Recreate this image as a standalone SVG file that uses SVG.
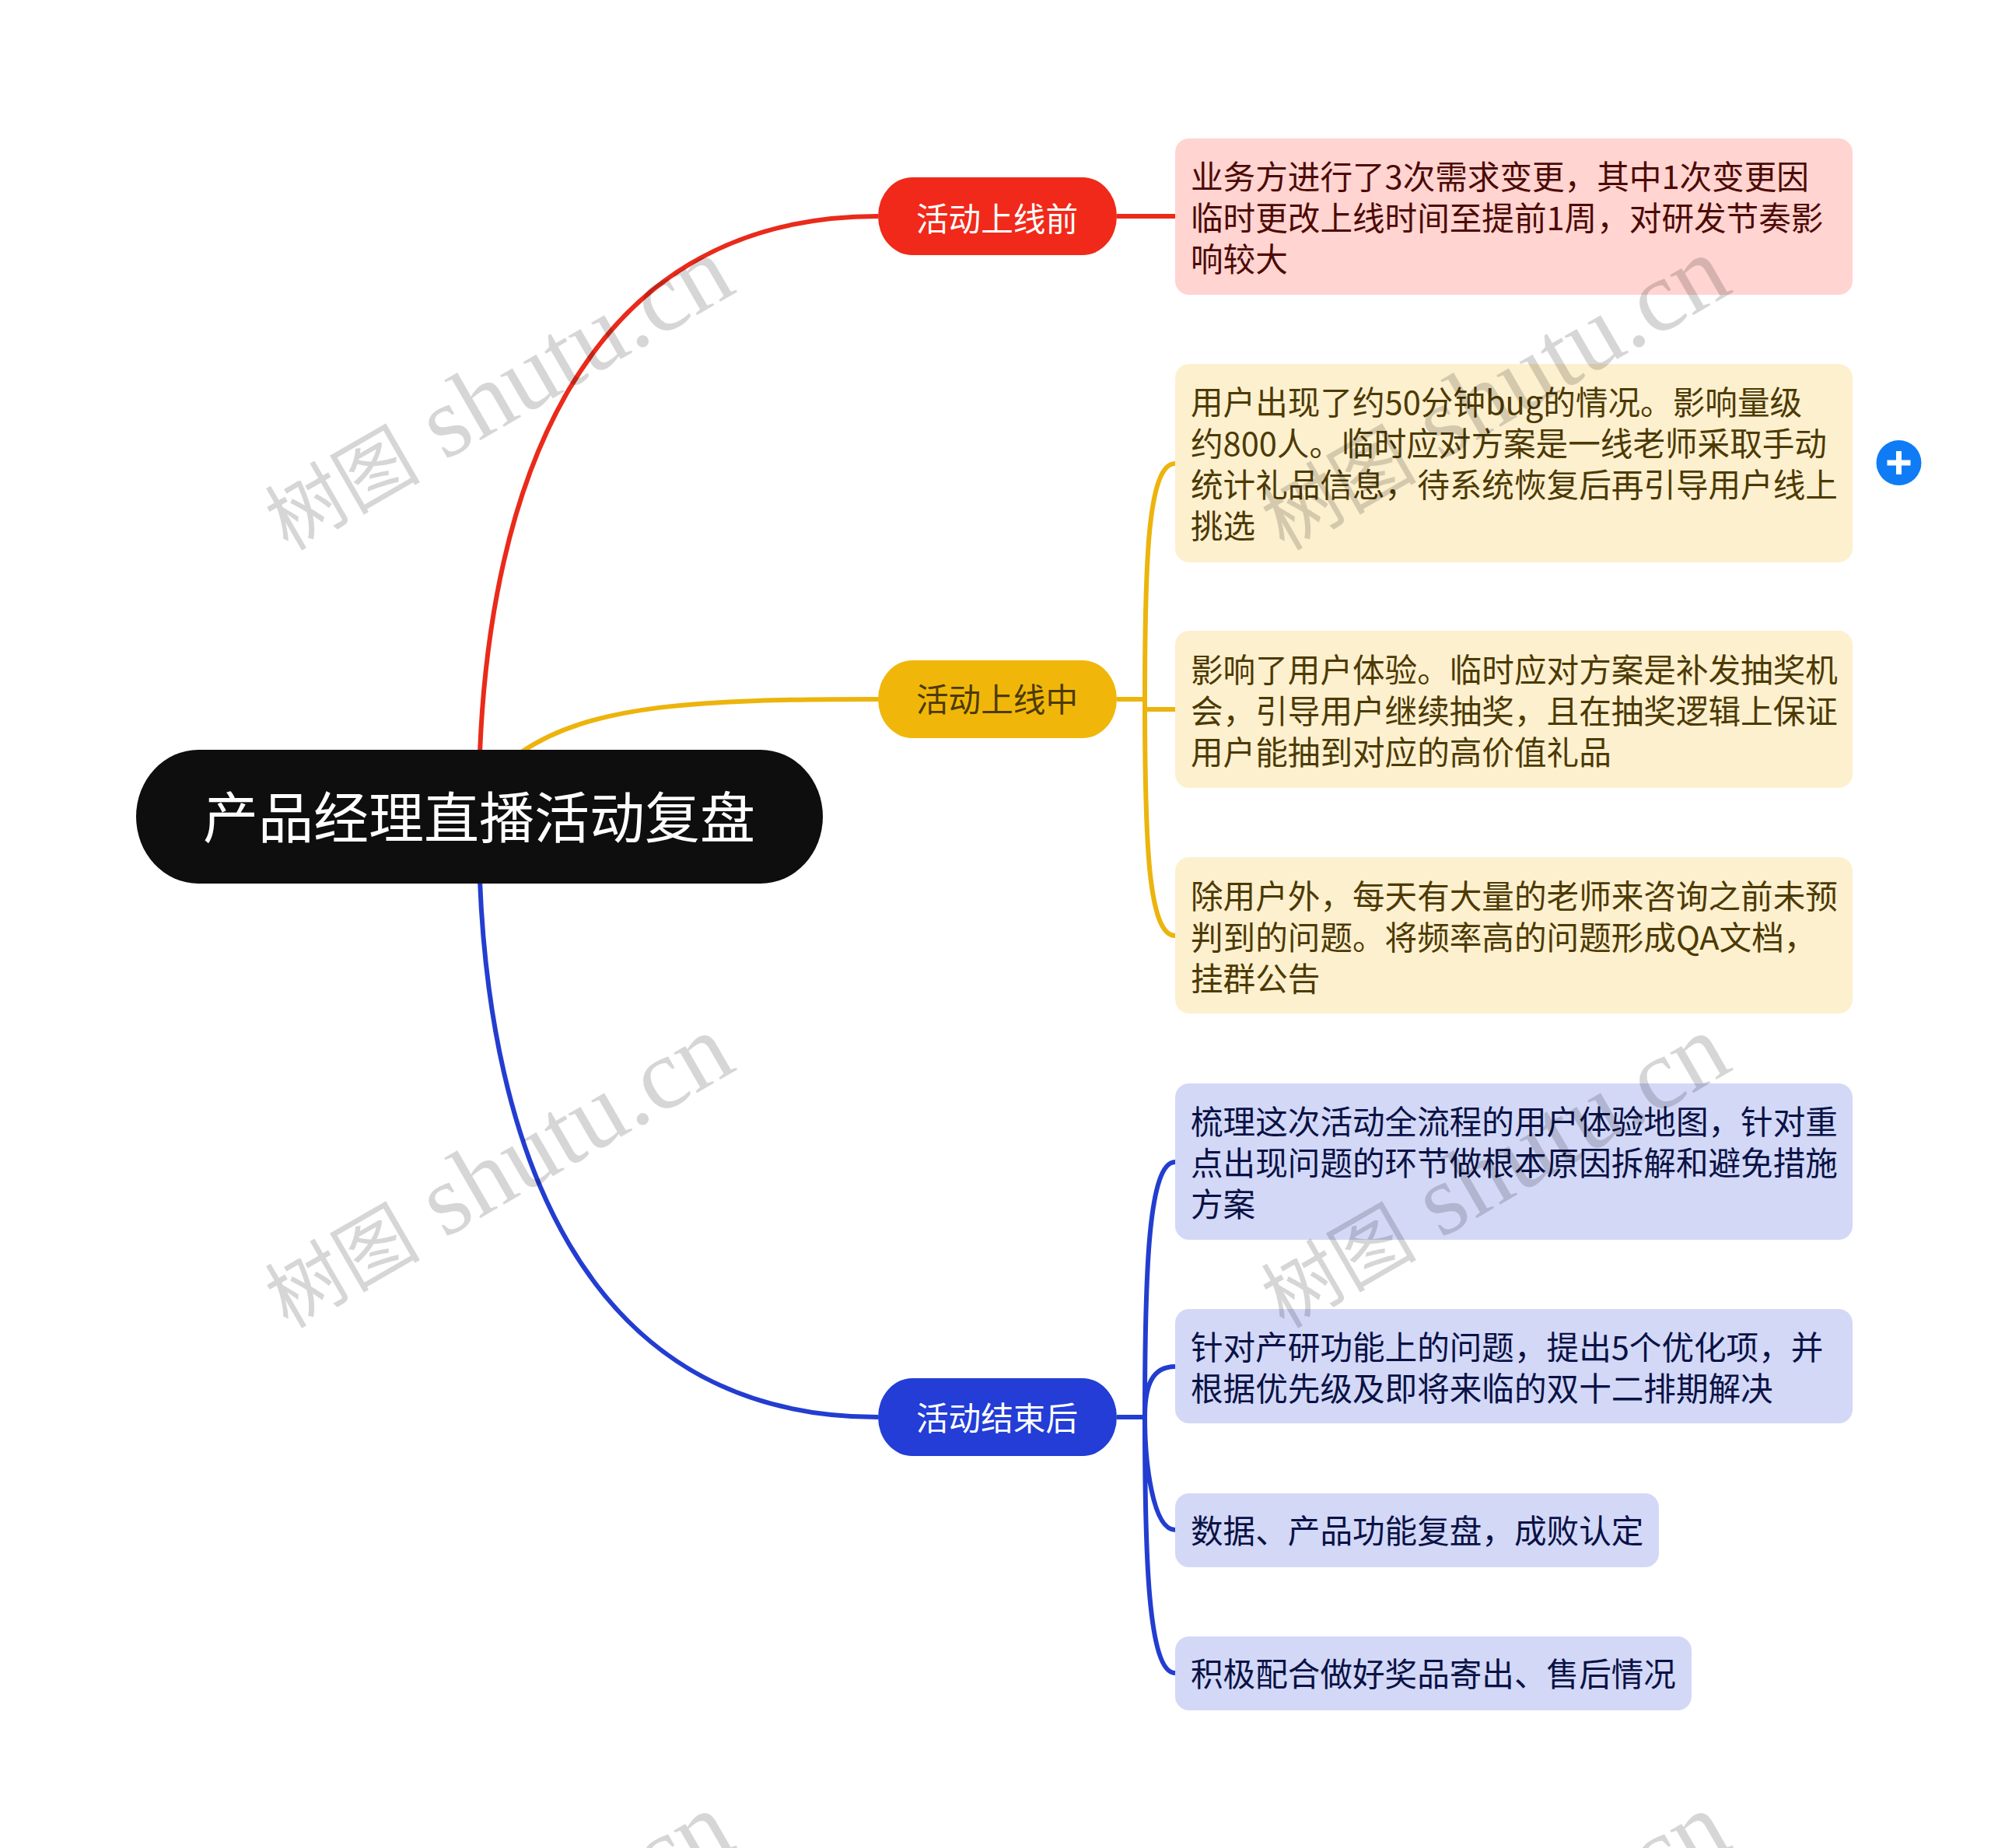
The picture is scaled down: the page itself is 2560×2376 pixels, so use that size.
<svg xmlns="http://www.w3.org/2000/svg" width="2560" height="2376" viewBox="0 0 2560 2376">
<style>
text{font-family:"Noto Sans CJK SC","Noto Sans",sans-serif}
.t{font-size:41.6px}
.c{fill:none;stroke-width:6;stroke-linecap:butt}
.r{stroke:#ea2a1a}.y{stroke:#ecb40c}.b{stroke:#233dd0}
.wm text{font-family:"Liberation Serif","Noto Sans CJK SC",serif;font-size:130px;fill:#000;fill-opacity:.16}
.wm tspan{font-size:100px}
.pill{text-anchor:middle}
</style>
<rect width="2560" height="2376" fill="#fff"/>
<g id="connectors">
<path class="c r" d="M617 968C630 640 740 278 1129 278"/>
<path class="c y" d="M669 968C760 905 900 899 1129 899"/>
<path class="c b" d="M617 1132C630 1460 740 1822 1129 1822"/>
<path class="c r" d="M1436 278H1511"/>
<path class="c y" d="M1436 899H1472M1472 899C1472 720 1476 596 1511 596M1472 899C1472 1080 1476 1203 1511 1203M1472 912H1511"/>
<path class="c b" d="M1436 1822H1472M1472 1822C1472 1640 1476 1494 1511 1494M1472 1822C1472 1780 1482 1757 1511 1757M1472 1822C1472 1880 1482 1967 1511 1967M1472 1822C1472 2000 1476 2151 1511 2151"/>
</g>
<g id="root"><rect x="175" y="964" width="883" height="172" rx="80" ry="86" fill="#0e0e0e"/><text x="616" y="1077" class="pill" font-size="71" fill="#fff">产品经理直播活动复盘</text></g>
<g id="b1"><rect x="1129" y="228" width="307" height="100" rx="44" ry="50" fill="#f0291a"/><text x="1282" y="297" class="pill" font-size="41.6" fill="#fff">活动上线前</text></g>
<g id="b2"><rect x="1129" y="849" width="307" height="100" rx="44" ry="50" fill="#f0b70a"/><text x="1282" y="915" class="pill" font-size="41.6" fill="#4d3a03">活动上线中</text></g>
<g id="b3"><rect x="1129" y="1772" width="307" height="100" rx="44" ry="50" fill="#233dd6"/><text x="1282" y="1839" class="pill" font-size="41.6" fill="#fff">活动结束后</text></g>
<g id="n1" class="t" fill="#4d0a05"><rect x="1511" y="178" width="871" height="201" rx="18" fill="#ffd4d1"/>
<text x="1531" y="243">业务方进行了3次需求变更，其中1次变更因</text><text x="1531" y="296">临时更改上线时间至提前1周，对研发节奏影</text><text x="1531" y="349">响较大</text></g>
<g id="n2" class="t" fill="#4d3a03"><rect x="1511" y="468" width="871" height="255" rx="18" fill="#fdf0cf"/>
<text x="1531" y="533">用户出现了约50分钟bug的情况。影响量级</text><text x="1531" y="586">约800人。临时应对方案是一线老师采取手动</text><text x="1531" y="639">统计礼品信息，待系统恢复后再引导用户线上</text><text x="1531" y="692">挑选</text></g>
<g id="n3" class="t" fill="#4d3a03"><rect x="1511" y="811" width="871" height="202" rx="18" fill="#fdf0cf"/>
<text x="1531" y="877">影响了用户体验。临时应对方案是补发抽奖机</text><text x="1531" y="930">会，引导用户继续抽奖，且在抽奖逻辑上保证</text><text x="1531" y="983">用户能抽到对应的高价值礼品</text></g>
<g id="n4" class="t" fill="#4d3a03"><rect x="1511" y="1102" width="871" height="201" rx="18" fill="#fdf0cf"/>
<text x="1531" y="1168">除用户外，每天有大量的老师来咨询之前未预</text><text x="1531" y="1221">判到的问题。将频率高的问题形成QA文档，</text><text x="1531" y="1274">挂群公告</text></g>
<g id="n5" class="t" fill="#0a1245"><rect x="1511" y="1393" width="871" height="201" rx="18" fill="#d3d8f7"/>
<text x="1531" y="1458">梳理这次活动全流程的用户体验地图，针对重</text><text x="1531" y="1511">点出现问题的环节做根本原因拆解和避免措施</text><text x="1531" y="1564">方案</text></g>
<g id="n6" class="t" fill="#0a1245"><rect x="1511" y="1683" width="871" height="147" rx="18" fill="#d3d8f7"/>
<text x="1531" y="1748">针对产研功能上的问题，提出5个优化项，并</text><text x="1531" y="1801">根据优先级及即将来临的双十二排期解决</text></g>
<g id="n7" class="t" fill="#0a1245"><rect x="1511" y="1920" width="622" height="95" rx="18" fill="#d3d8f7"/>
<text x="1531" y="1984">数据、产品功能复盘，成败认定</text></g>
<g id="n8" class="t" fill="#0a1245"><rect x="1511" y="2104" width="664" height="95" rx="18" fill="#d3d8f7"/>
<text x="1531" y="2168">积极配合做好奖品寄出、售后情况</text></g>
<g id="plus"><circle cx="2441.500" cy="595" r="29" fill="#0f7cf5"/><path d="M2426.500 595H2456.500M2441.500 580V610" stroke="#fff" stroke-width="7"/></g>
<g id="watermarks" class="wm">
<text transform="translate(370 709) rotate(-30)"><tspan>树图</tspan> shutu.cn</text>
<text transform="translate(1651 709) rotate(-30)"><tspan>树图</tspan> shutu.cn</text>
<text transform="translate(370 1709) rotate(-30)"><tspan>树图</tspan> shutu.cn</text>
<text transform="translate(1651 1709) rotate(-30)"><tspan>树图</tspan> shutu.cn</text>
<text transform="translate(370 2709) rotate(-30)"><tspan>树图</tspan> shutu.cn</text>
<text transform="translate(1651 2709) rotate(-30)"><tspan>树图</tspan> shutu.cn</text>
</g>
</svg>
